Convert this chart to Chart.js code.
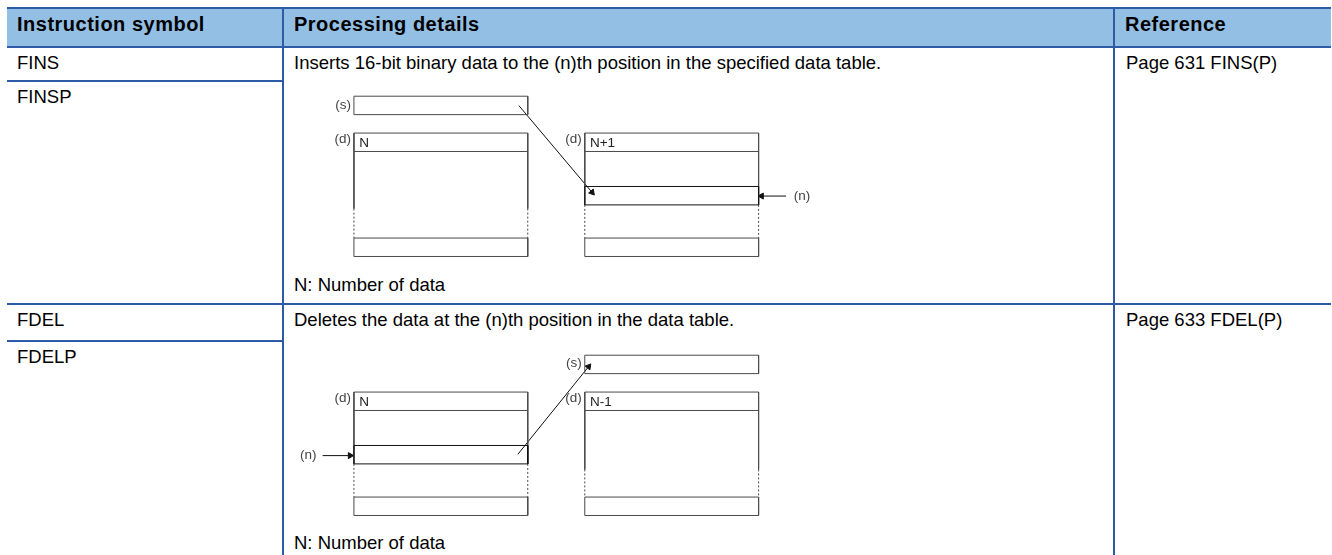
<!DOCTYPE html>
<html>
<head>
<meta charset="utf-8">
<script src="https://cdn.jsdelivr.net/npm/chart.js@4.4.1/dist/chart.umd.min.js"></script>
<style>
  html, body { margin: 0; padding: 0; background: #fff; overflow: hidden; width: 1332px; height: 555px; }
  body { font-family: "Liberation Sans", Arial, sans-serif; color: #000; position: relative; }
  #tbl { position: absolute; left: 7px; top: 7px; width: 1324px; border-collapse: collapse; table-layout: fixed; }
  #tbl th, #tbl td { border: 2px solid #2e5ba8; text-align: left; padding: 0 10px; }
  #tbl th { background: #94bfe4; font-weight: bold; font-size: 20px; letter-spacing: 0.5px; height: 34px;
            vertical-align: top; padding-top: 3px; line-height: 24px; }
  #tbl td { font-size: 18.5px; vertical-align: top; padding-top: 4px; line-height: 22px; }
  #tbl tr > :first-child { border-left: none; }
  #tbl tr > .ref, #tbl th:last-child { border-right: none; }
  #tbl td.ref { padding-left: 11px; }
  .note { position: absolute; left: 294px; font-size: 18.5px; line-height: 22px; }
  .diagram { position: absolute; left: 290px; width: 560px; height: 185px; }
</style>
</head>
<body>
<table id="tbl">
  <colgroup><col style="width:276px"><col style="width:831px"><col style="width:217px"></colgroup>
  <thead><tr id="head"></tr></thead>
  <tbody id="rows"></tbody>
</table>
<div class="note" style="top:274px">N: Number of data</div>
<div class="note" style="top:532px">N: Number of data</div>
<div class="diagram" style="top:82px"><canvas id="insertChart" width="560" height="185"></canvas></div>
<div class="diagram" style="top:341px"><canvas id="deleteChart" width="560" height="185"></canvas></div>
<script>
// table content
const headers = ['Instruction symbol', 'Processing details', 'Reference'];
const symbols = [['FINS', 'FINSP'], ['FDEL', 'FDELP']];
const details = [
  'Inserts 16-bit binary data to the (n)th position in the specified data table.',
  'Deletes the data at the (n)th position in the data table.'
];
const references = ['Page 631 FINS(P)', 'Page 633 FDEL(P)'];
const firstRowHeights = [34, 37];
const secondRowHeights = [223, 260];

// diagram slots, in word rows (y) and table widths (x)
const sourceRow = [0, 1];
const tableTop = 2;
const headRow = 3;
const lastRow = [7.7, 8.7];
const nthRow = [4.9, 5.9];
const afterCol = 1.328;

const insertTables = [
  { col: 0, count: 'N', solidTo: 6.1 },
  { col: afterCol, count: 'N+1', nth: true }
];
const deleteTables = [
  { col: 0, count: 'N', nth: true },
  { col: afterCol, count: 'N-1', solidTo: 6.2 }
];

document.getElementById('head').innerHTML = headers.map(h => '<th>' + h + '</th>').join('');
let html = '';
symbols.forEach((s, i) => {
  html += '<tr style="height:' + firstRowHeights[i] + 'px"><td>' + s[0] + '</td>' +
    '<td rowspan="2">' + details[i] + '</td><td rowspan="2" class="ref">' + references[i] + '</td></tr>';
  html += '<tr style="height:' + secondRowHeights[i] + 'px"><td>' + s[1] + '</td></tr>';
});
document.getElementById('rows').innerHTML = html;

const LINE = '#4a4a4a';
const DARK = '#111';

function seg(points, opts) {
  return Object.assign({
    data: points.map(p => ({ x: p[0], y: p[1] })),
    borderColor: LINE,
    borderWidth: 1,
    pointRadius: 0,
    fill: false,
    tension: 0
  }, opts || {});
}

function rect(x0, y0, y1, color) {
  return seg([[x0, y0], [x0 + 1, y0], [x0 + 1, y1], [x0, y1], [x0, y0]], { borderColor: color || LINE });
}

function arrow(from, to) {
  return seg([from, to], {
    borderColor: DARK,
    pointStyle: 'triangle',
    pointBackgroundColor: DARK,
    pointBorderColor: DARK,
    pointRadius: c => c.dataIndex === 1 ? 3.5 : 0,
    pointRotation: c => {
      const sx = c.chart.scales.x, sy = c.chart.scales.y;
      const dx = sx.getPixelForValue(to[0]) - sx.getPixelForValue(from[0]);
      const dy = sy.getPixelForValue(to[1]) - sy.getPixelForValue(from[1]);
      return Math.atan2(dx, -dy) * 180 / Math.PI;
    }
  });
}

function tableSets(t) {
  const x0 = t.col, x1 = t.col + 1;
  const sets = [
    seg([[x0, tableTop], [x1, tableTop]]),
    seg([[x0, headRow], [x1, headRow]])
  ];
  let solidEnd = t.solidTo;
  if (t.nth) {
    sets.push(rect(x0, nthRow[0], nthRow[1], DARK));
    solidEnd = nthRow[1];
  }
  sets.push(seg([[x0, tableTop], [x0, solidEnd]]));
  sets.push(seg([[x1, tableTop], [x1, solidEnd]]));
  sets.push(seg([[x0, solidEnd], [x0, lastRow[0]]], { borderDash: [2, 2] }));
  sets.push(seg([[x1, solidEnd], [x1, lastRow[0]]], { borderDash: [2, 2] }));
  sets.push(rect(x0, lastRow[0], lastRow[1]));
  return sets;
}

function tableLabels(t) {
  return [
    { text: '(d)', x: t.col - 0.017, y: 2.35, align: 'right', color: '#444' },
    { text: t.count, x: t.col + 0.03, y: 2.55, align: 'left', color: '#222' }
  ];
}

const labelPlugin = {
  id: 'diagramLabels',
  afterDatasetsDraw(chart, args, opts) {
    const { ctx, scales: { x, y } } = chart;
    ctx.save();
    ctx.font = '13.5px "Liberation Sans", Arial, sans-serif';
    ctx.textBaseline = 'middle';
    opts.items.forEach(t => {
      ctx.fillStyle = t.color;
      ctx.textAlign = t.align;
      ctx.fillText(t.text, x.getPixelForValue(t.x), y.getPixelForValue(t.y));
    });
    ctx.restore();
  }
};

function drawDiagram(id, datasets, labels) {
  return new Chart(document.getElementById(id).getContext('2d'), {
    type: 'line',
    data: { datasets: datasets },
    options: {
      responsive: false,
      animation: false,
      devicePixelRatio: 1,
      layout: { padding: 0 },
      scales: {
        x: { type: 'linear', min: -0.339, max: 2.825, display: false },
        y: { type: 'linear', min: -0.5, max: 9, reverse: true, display: false }
      },
      plugins: {
        legend: { display: false },
        tooltip: { enabled: false },
        diagramLabels: { items: labels }
      }
    },
    plugins: [labelPlugin]
  });
}

// insert: (s) -> (n)th word of (d)
drawDiagram('insertChart',
  [rect(0, sourceRow[0], sourceRow[1])]
    .concat(tableSets(insertTables[0]), tableSets(insertTables[1]))
    .concat([arrow([0.949, 0.51], [1.37, 5.22]), arrow([2.486, 5.42], [2.345, 5.42])]),
  [{ text: '(s)', x: -0.017, y: 0.5, align: 'right', color: '#444' },
   { text: '(n)', x: 2.53, y: 5.42, align: 'left', color: '#444' }]
    .concat(tableLabels(insertTables[0]), tableLabels(insertTables[1])));

// delete: (n)th word of (d) -> (s)
drawDiagram('deleteChart',
  [rect(afterCol, sourceRow[0], sourceRow[1])]
    .concat(tableSets(deleteTables[0]), tableSets(deleteTables[1]))
    .concat([arrow([0.943, 5.38], [1.35, 0.62]), arrow([-0.18, 5.45], [-0.022, 5.45])]),
  [{ text: '(s)', x: afterCol - 0.017, y: 0.45, align: 'right', color: '#444' },
   { text: '(n)', x: -0.31, y: 5.45, align: 'left', color: '#444' }]
    .concat(tableLabels(deleteTables[0]), tableLabels(deleteTables[1])));
</script>
</body>
</html>
